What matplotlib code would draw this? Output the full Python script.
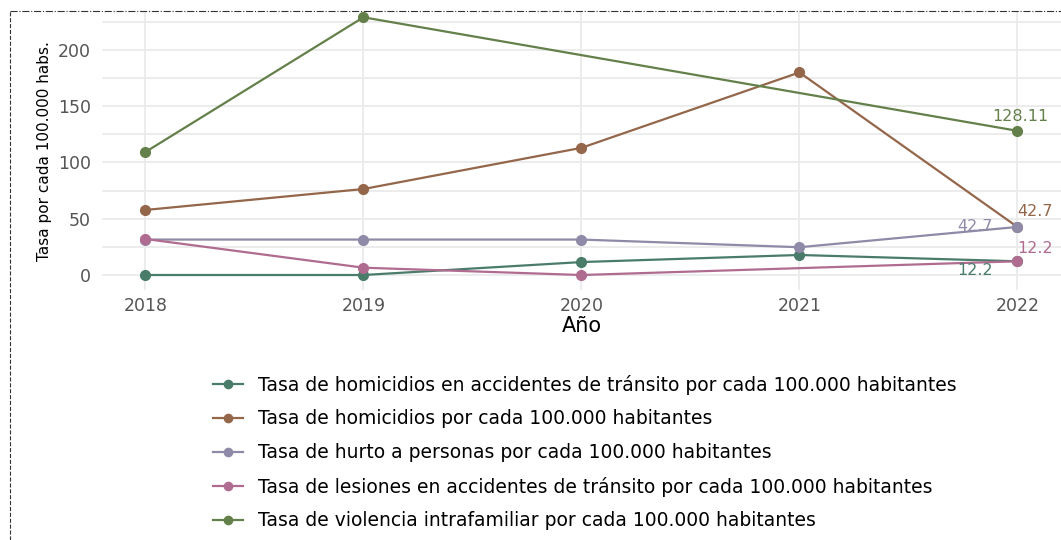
import matplotlib
matplotlib.use("Agg")
import matplotlib.pyplot as plt
from matplotlib.lines import Line2D

# Datos (tasa por cada 100.000 habitantes)
anios = [2018, 2019, 2020, 2021, 2022]
homicidios_transito = [0, 0, 11.5, 17.8, 12.2]
homicidios = [57.8, 76.4, 113.0, 180.0, 42.7]
hurto_personas = [31.5, 31.5, 31.5, 24.7, 42.7]
anios_lesiones = [2018, 2019, 2020, 2022]
lesiones_transito = [32.0, 6.5, 0, 12.2]
anios_violencia = [2018, 2019, 2022]
violencia_intrafamiliar = [109.3, 229.0, 128.11]

nombres = [
    "Tasa de homicidios en accidentes de tránsito por cada 100.000 habitantes",
    "Tasa de homicidios por cada 100.000 habitantes",
    "Tasa de hurto a personas por cada 100.000 habitantes",
    "Tasa de lesiones en accidentes de tránsito por cada 100.000 habitantes",
    "Tasa de violencia intrafamiliar por cada 100.000 habitantes",
]
colores = ["#4a7c6a", "#94664a", "#8f8aa8", "#b06c90", "#64804a"]

series = [
    (anios, homicidios_transito),
    (anios, homicidios),
    (anios, hurto_personas),
    (anios_lesiones, lesiones_transito),
    (anios_violencia, violencia_intrafamiliar),
]

plt.rcParams['font.family'] = ['DejaVu Sans']

fig = plt.figure(figsize=(10.61, 5.40), dpi=100)
ax = fig.add_axes([0.096, 0.463, 0.904, 0.515])

lineas = []
for (x, y), nombre, c in zip(series, nombres, colores):
    l, = ax.plot(x, y, color=c, lw=1.6, marker='o', markersize=7, label=nombre)
    lineas.append(l)

# etiquetas del ultimo valor
ax.annotate("128.11", (2022, violencia_intrafamiliar[-1]), xytext=(2, 5),
            textcoords='offset points', ha='center', va='bottom', color=colores[4], fontsize=11.5)
ax.annotate("42.7", (2022, homicidios[-1]), xytext=(0, 6),
            textcoords='offset points', ha='left', va='bottom', color=colores[1], fontsize=11.5)
ax.annotate("42.7", (2022, hurto_personas[-1]), xytext=(-18, 0),
            textcoords='offset points', ha='right', va='center', color=colores[2], fontsize=11.5)
ax.annotate("12.2", (2022, lesiones_transito[-1]), xytext=(0, 4),
            textcoords='offset points', ha='left', va='bottom', color=colores[3], fontsize=11.5)
ax.annotate("12.2", (2022, homicidios_transito[-1]), xytext=(-18, -1),
            textcoords='offset points', ha='right', va='top', color=colores[0], fontsize=11.5)

ax.set_xlim(2017.8, 2022.2)
ax.set_ylim(-13.3, 233.8)
ax.set_xticks(anios)
ax.set_yticks([0, 50, 100, 150, 200])
ax.set_yticks([25, 75, 125, 175, 225], minor=True)
ax.tick_params(axis='both', which='both', length=0, labelsize=12.5, labelcolor='#555555')
ax.tick_params(axis='x', pad=5)
ax.tick_params(axis='y', pad=8)
ax.grid(True, which='both', color='#ebebeb', lw=1.3)
ax.set_axisbelow(True)
for s in ax.spines.values():
    s.set_visible(False)

ax.set_ylabel("Tasa por cada 100.000 habs.", fontsize=11, color='black', labelpad=4)
ax.set_xlabel("Año", fontsize=15, color='black', labelpad=1)

fig.legend(handles=lineas, loc='upper left', bbox_to_anchor=(196 / 1061, 1 - 358 / 540),
           frameon=False, fontsize=13.5, handlelength=1.6, handletextpad=0.8,
           labelspacing=0.78, markerscale=0.85)

# borde punteado
fig.add_artist(Line2D([10 / 1061, 1], [1 - 11 / 540, 1 - 11 / 540], transform=fig.transFigure,
                      color='#333333', lw=0.8, ls='-.'))
fig.add_artist(Line2D([10 / 1061, 10 / 1061], [0, 1 - 11 / 540], transform=fig.transFigure,
                      color='#333333', lw=0.8, ls='--'))

fig.savefig("out.png", dpi=100)
